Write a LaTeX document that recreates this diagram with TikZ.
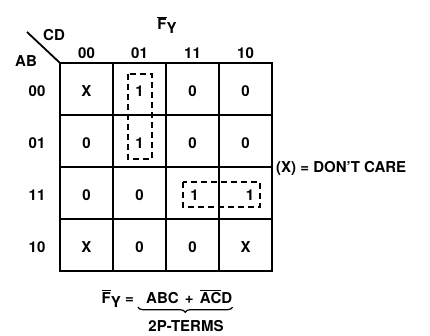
\documentclass[tikz,border=0pt]{standalone}
\usepackage{fontspec}
\setmainfont{TeX Gyre Heros}
\usetikzlibrary{decorations.pathreplacing}
% complemented variable: a bar over the letter
\newcommand\ovl[1]{\ensuremath{\overline{\mbox{#1}}}}
% lowered subscript letter
\newcommand\lowsub[1]{\raisebox{-4.5pt}{#1}}

\tikzset{
  lbl/.style={inner sep=0pt, font=\bfseries\fontsize{15}{18}\selectfont},
  cell/.style={lbl},
  gridline/.style={line width=1.4pt},
  frame/.style={line width=2.6pt},
  loop/.style={line width=1.5pt, dash pattern=on 6pt off 4pt},
  bracedeco/.style={line width=1.2pt, decorate,
    decoration={brace, mirror, amplitude=5pt}}
}

\begin{document}
\begin{tikzpicture}[x=1pt, y=-1pt]
\path[use as bounding box] (0,0) rectangle (430,336);

% map frame and grid
\coordinate (nw) at (60,63);
\coordinate (corner) at (27,32);
\draw[gridline] (113,63) -- (113,271) (166,63) -- (166,271) (219,63) -- (219,271);
\draw[gridline] (60,115) -- (272,115) (60,167) -- (272,167) (60,219) -- (272,219);
\draw[frame] (nw) rectangle (272,271);
\draw[line width=1.8pt] (corner) -- (nw);

% headings
\node[lbl] (title) at (167,25) {\ovl{F}\lowsub{Y}};
\node[lbl] (cd) at (54,35) {CD};
\node[lbl] (ab) at (26,61) {AB};

\node[lbl] (col0) at (86.5,53) {00};
\node[lbl] (col1) at (139.5,53) {01};
\node[lbl] (col2) at (192.5,53) {11};
\node[lbl] (col3) at (245.5,53) {10};

\node[lbl] (row0) at (37,91) {00};
\node[lbl] (row1) at (37,143) {01};
\node[lbl] (row2) at (37,195) {11};
\node[lbl] (row3) at (37,247) {10};

% cell entries
\node[cell] (c00) at (86.5,91) {X};
\node[cell] (c01) at (139.5,91) {1};
\node[cell] (c02) at (192.5,91) {0};
\node[cell] (c03) at (245.5,91) {0};
\node[cell] (c10) at (86.5,143) {0};
\node[cell] (c11) at (139.5,143) {1};
\node[cell] (c12) at (192.5,143) {0};
\node[cell] (c13) at (245.5,143) {0};
\node[cell] (c20) at (86.5,195) {0};
\node[cell] (c21) at (139.5,195) {0};
\node[cell] (c22) at (194.5,195) {1};
\node[cell] (c23) at (250,195) {1};
\node[cell] (c30) at (86.5,247) {X};
\node[cell] (c31) at (139.5,247) {0};
\node[cell] (c32) at (192.5,247) {0};
\node[cell] (c33) at (245.5,247) {X};

% groupings
\draw[loop] (128,74) rectangle (152,159);
\draw[loop] (183,182) rectangle (260,207);

\node[lbl, anchor=west] (dc) at (276,168) {(X) = DON'T CARE};

% minimal expression
\node[lbl, anchor=base east] (fy) at (134,303) {\ovl{F}\lowsub{Y} =};
\node[lbl, anchor=base west, text depth=0pt] (terms) at (146,303)
  {ABC\hspace{2pt} + \hspace{2pt}\ovl{A}\ovl{C}D};
\draw[bracedeco] ([xshift=-8pt,yshift=-4pt]terms.south west) -- ([yshift=-4pt]terms.south east);
\node[lbl] (pterms) at (186,326) {2P-TERMS};
\end{tikzpicture}
\end{document}
